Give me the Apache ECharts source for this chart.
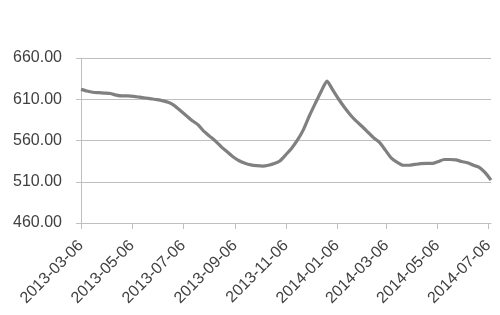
<!DOCTYPE html>
<html>
<head>
<meta charset="utf-8">
<script src="https://cdn.jsdelivr.net/npm/echarts@6/dist/echarts.min.js"></script>
<style>html,body{margin:0;padding:0;background:#fff;}#c{width:500px;height:315px;}</style>
</head>
<body>
<div id="c"></div>
<script>
// Weekly series, starting 2013-03-06, one value per week
var startDate = [2013, 2, 6];
var weekStepDays = 7;
var prices = [
  622, 620, 618.5, 618, 617.5, 617, 615, 614, 614, 613.5,
  612.5, 611.5, 610.5, 609.5, 608, 606, 602, 596, 590, 584,
  579, 571, 565, 559, 552, 546, 540, 535.5, 532.5, 530.5,
  529.5, 529, 530, 532, 535.5, 543, 551, 561, 573.5, 590,
  605, 619.5, 632, 621, 610, 600, 591, 583.5, 577, 570,
  563, 557.5, 548, 538.5, 533.5, 530, 530, 531, 532, 532.2,
  532.2, 534.5, 537, 537, 536.5, 534.5, 533, 530, 527.5, 521,
  512
];
var xTickLabels = ['2013-03-06','2013-05-06','2013-07-06','2013-09-06','2013-11-06',
                   '2014-01-06','2014-03-06','2014-05-06','2014-07-06'];
var yTicks = [460, 510, 560, 610, 660];

function pad(n){return (n<10?'0':'')+n;}
function fmt(d){return d.getFullYear()+'-'+pad(d.getMonth()+1)+'-'+pad(d.getDate());}
function parse(s){var p=s.split('-');return new Date(+p[0],+p[1]-1,+p[2]).getTime();}

var seriesData = prices.map(function(v,i){
  var d = new Date(startDate[0], startDate[1], startDate[2] + i*weekStepDays);
  return [d.getTime(), v];
});
var tickTimes = xTickLabels.map(parse);

var chart = echarts.init(document.getElementById('c'), null, {renderer:'canvas'});
chart.setOption({
  animation:false,
  backgroundColor:'#ffffff',
  grid:{left:81, right:9, top:58, bottom:92, containLabel:false},
  xAxis:{
    type:'value',
    min: seriesData[0][0],
    max: seriesData[seriesData.length-1][0],
    scale:true,
    axisLine:{show:true, lineStyle:{color:'#bfbfbf', width:1}},
    axisTick:{show:true, length:6, customValues: tickTimes, lineStyle:{color:'#bfbfbf'}},
    axisLabel:{
      customValues: tickTimes,
      rotate:45, margin:20,
      fontFamily:'Liberation Sans', fontSize:16, color:'#404040',
      formatter:function(v){return fmt(new Date(v));},
      hideOverlap:false
    },
    splitLine:{show:false}
  },
  yAxis:{
    type:'value', min:yTicks[0], max:yTicks[yTicks.length-1], interval:50,
    axisLine:{show:true, lineStyle:{color:'#bfbfbf', width:1}},
    axisTick:{show:true, length:5, lineStyle:{color:'#bfbfbf'}},
    axisLabel:{fontFamily:'Liberation Sans', fontSize:16, color:'#404040', margin:19,
      formatter:function(v){return v.toFixed(2);}},
    splitLine:{show:true, lineStyle:{color:'#bfbfbf', width:1}}
  },
  series:[{
    type:'line', data:seriesData, showSymbol:false, smooth:0.2,
    lineStyle:{color:'#808080', width:3.2},
    itemStyle:{color:'#808080'}
  }]
});
</script>
</body>
</html>
